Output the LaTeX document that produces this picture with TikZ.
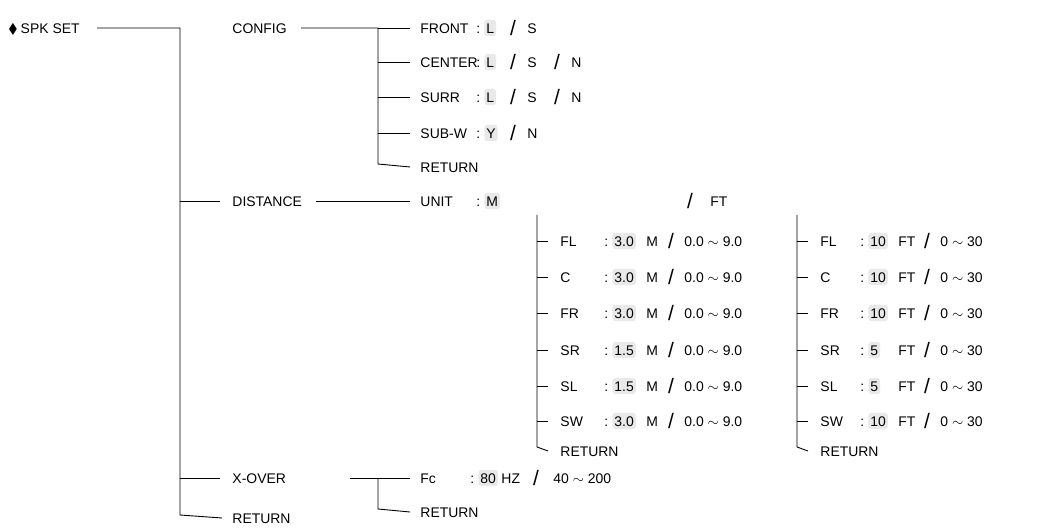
\documentclass[tikz,border=0pt]{standalone}
\usepackage{amssymb}
\usepackage{fontspec}
\setmainfont{Liberation Sans}
\usetikzlibrary{positioning}
\tikzset{every picture/.style={line width=0.9pt}}

\begin{document}
\begin{tikzpicture}[x=1bp,y=-1bp,
    lbl/.style={anchor=west,inner sep=0pt,text height=10.5bp,text depth=0pt,font=\fontsize{14}{16}\selectfont},
    hl/.style={lbl,fill=gray!17,rounded corners=3pt,inner xsep=2pt,inner ysep=3pt},
    sl/.style={anchor=center,inner sep=0pt,font=\fontsize{21}{22}\selectfont}]
    \useasboundingbox (0,0) rectangle (1037,529);
    % top level
    \node[lbl] (spk) at (8,28) {$\blacklozenge$\kern3pt SPK SET};
    \coordinate (t0) at (180,28);
    \coordinate (t1) at (180,515);
    \node[lbl] (cfg) at (232,28) {CONFIG};
    \node[lbl] (dst) at (232,201) {DISTANCE};
    \node[lbl] (xov) at (232,478) {X-OVER};
    \node[lbl] (ret) at (232,518) {RETURN};
    \draw ([xshift=17]spk.east) -- (t0) -- (t1) -- ([xshift=-10]ret.west);
    \draw ([xshift=-52]dst.west) -- ([xshift=-12]dst.west);
    \draw ([xshift=-52]xov.west) -- ([xshift=-12]xov.west);
    % config
    \coordinate (c0) at (378,28);
    \coordinate (c1) at (378,164);
    \foreach \n/\t/\y in {fr/FRONT/28,ce/CENTER/62,su/SURR/97,sb/SUB-W/133}{
        \node[lbl] (\n) at (420,\y) {\t};
        \draw ([xshift=-42]\n.west) -- ([xshift=-10]\n.west);
    }
    \node[lbl] (cr) at (420,167) {RETURN};
    \draw ([xshift=14]cfg.east) -- (c0) -- (c1) -- ([xshift=-10]cr.west);
    \foreach \n/\v in {fr/L,ce/L,su/L,sb/Y}{
        \node[lbl] at (476,0 |- \n) {:};
        \node[hl] (v\n) at (484,0 |- \n) {\v};
    }
    \foreach \n in {fr,ce,su}{
        \node[sl] at (513,0 |- \n) {/};
        \node[lbl] at (527,0 |- \n) {S};
    }
    \foreach \n in {ce,su}{
        \node[sl] at (557,0 |- \n) {/};
        \node[lbl] at (571,0 |- \n) {N};
    }
    \node[sl] at (513,0 |- sb) {/};
    \node[lbl] at (527,0 |- sb) {N};
    % distance
    \node[lbl] (un) at (420,201) {UNIT};
    \node[lbl] at (476,201) {:};
    \node[hl] (um) at (484,201) {M};
    \node[sl] at (690,201) {/};
    \node[lbl] (uf) at (710,201) {FT};
    \draw ([xshift=14]dst.east) -- ([xshift=-10]un.west);
    \foreach \n/\t/\v/\f/\y in {fl/FL/3.0/10/241,cc/C/3.0/10/277,rr/FR/3.0/10/313,sr/SR/1.5/5/350,ls/SL/1.5/5/386,sw/SW/3.0/10/421}{
        \node[lbl] (L\n) at (560,\y) {\t};
        \node[lbl] at (604,\y) {:};
        \node[hl] at (612,\y) {\v};
        \node[lbl] at (646,\y) {M};
        \node[sl] at (671,\y) {/};
        \node[lbl] at (684,\y) {0.0 $\sim$ 9.0};
        \draw ([xshift=-23]L\n.west) -- ([xshift=-12]L\n.west);
        \node[lbl] (R\n) at (820,\y) {\t};
        \node[lbl] at (860,\y) {:};
        \node[hl] at (868,\y) {\f};
        \node[lbl] at (898,\y) {FT};
        \node[sl] at (927,\y) {/};
        \node[lbl] at (940,\y) {0 $\sim$ 30};
        \draw ([xshift=-23]R\n.west) -- ([xshift=-12]R\n.west);
    }
    \node[lbl] (Lre) at (560,451) {RETURN};
    \node[lbl] (Rre) at (820,451) {RETURN};
    \draw (537,215) -- (537,447) -- ([xshift=-12]Lre.west);
    \draw (797,215) -- (797,447) -- ([xshift=-12]Rre.west);
    % x-over
    \node[lbl] (fc) at (420,478) {Fc};
    \node[lbl] at (470,478) {:};
    \node[hl] at (478,478) {80};
    \node[lbl] at (501,478) {HZ};
    \node[sl] at (536,478) {/};
    \node[lbl] at (553,478) {40 $\sim$ 200};
    \node[lbl] (xr) at (420,512) {RETURN};
    \draw ([xshift=-70]fc.west) -- ([xshift=-10]fc.west);
    \draw (378,478) -- (378,509) -- ([xshift=-10]xr.west);
\end{tikzpicture}
\end{document}
